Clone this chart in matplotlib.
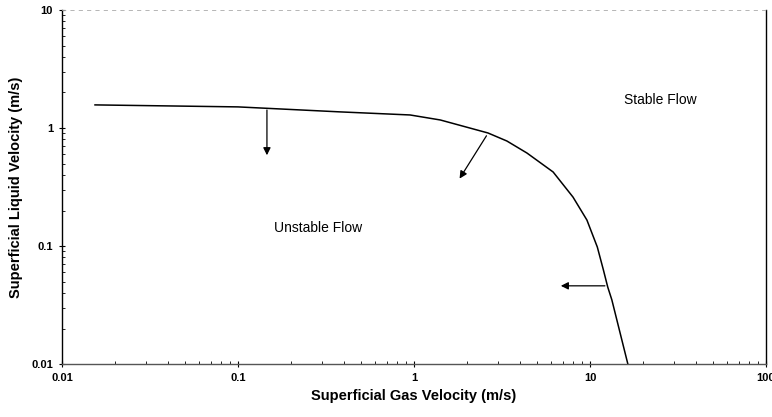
import matplotlib.pyplot as plt
from matplotlib.ticker import FixedLocator, FixedFormatter, LogLocator, NullFormatter

plt.rcParams["font.family"] = ["Liberation Sans", "DejaVu Sans"]

# boundary curve
gas_vel = [0.0154, 0.1, 0.38, 0.95, 1.41, 2.63, 3.37, 4.38, 6.17, 8.0, 9.6,
           11.0, 11.9, 12.6, 13.3, 16.4]
liq_vel = [1.57, 1.51, 1.37, 1.29, 1.17, 0.908, 0.776, 0.614, 0.424, 0.26, 0.166,
           0.098, 0.063, 0.045, 0.035, 0.01]

# arrows: start (x, y) -> end (x, y)
arrow_start = [(0.146, 1.50), (2.63, 0.90), (12.6, 0.046)]
arrow_end = [(0.146, 0.557), (1.78, 0.356), (6.58, 0.046)]

tick_vals = [0.01, 0.1, 1, 10, 100]
x_labels = ["0.01", "0.1", "1", "10", "100"]
y_vals = [0.01, 0.1, 1, 10]
y_labels = ["0.01", "0.1", "1", "10"]

fig = plt.figure(figsize=(7.72, 4.17), dpi=100)
ax = fig.add_axes([0.0803, 0.127, 0.912, 0.849])

ax.plot(gas_vel, liq_vel, color="black", linewidth=1.1)

for (x0, y0), (x1, y1) in zip(arrow_start, arrow_end):
    ax.annotate(
        "",
        xy=(x1, y1),
        xytext=(x0, y0),
        arrowprops=dict(arrowstyle="-|>", color="black", lw=0.9, mutation_scale=11),
    )

ax.text(25, 1.73, "Stable Flow", ha="center", va="center", fontsize=10)
ax.text(0.285, 0.142, "Unstable Flow", ha="center", va="center", fontsize=10)

ax.set_xscale("log")
ax.set_yscale("log")
ax.set_xlim(0.01, 100)
ax.set_ylim(0.01, 10)

ax.xaxis.set_major_locator(FixedLocator(tick_vals))
ax.xaxis.set_major_formatter(FixedFormatter(x_labels))
ax.yaxis.set_major_locator(FixedLocator(y_vals))
ax.yaxis.set_major_formatter(FixedFormatter(y_labels))
ax.xaxis.set_minor_locator(LogLocator(base=10, subs=range(2, 10)))
ax.yaxis.set_minor_locator(LogLocator(base=10, subs=range(2, 10)))
ax.xaxis.set_minor_formatter(NullFormatter())
ax.yaxis.set_minor_formatter(NullFormatter())

ax.tick_params(which="major", direction="inout", length=5, width=0.8, labelsize=8, pad=4)
ax.tick_params(which="minor", direction="in", length=2, width=0.6)
for lbl in ax.get_xticklabels() + ax.get_yticklabels():
    lbl.set_fontweight("bold")

ax.spines["top"].set_linestyle((0, (4, 6)))
ax.spines["top"].set_color("#aaaaaa")
ax.spines["top"].set_linewidth(0.6)
ax.spines["right"].set_linewidth(1.0)
ax.spines["left"].set_linewidth(1.0)
ax.spines["bottom"].set_linewidth(1.0)
ax.spines["bottom"].set_color("#555555")

ax.set_xlabel("Superficial Gas Velocity (m/s)", fontsize=10.5, fontweight="bold", labelpad=4)
ax.set_ylabel("Superficial Liquid Velocity (m/s)", fontsize=10.5, fontweight="bold", labelpad=6)

plt.savefig("out.png", dpi=100)
